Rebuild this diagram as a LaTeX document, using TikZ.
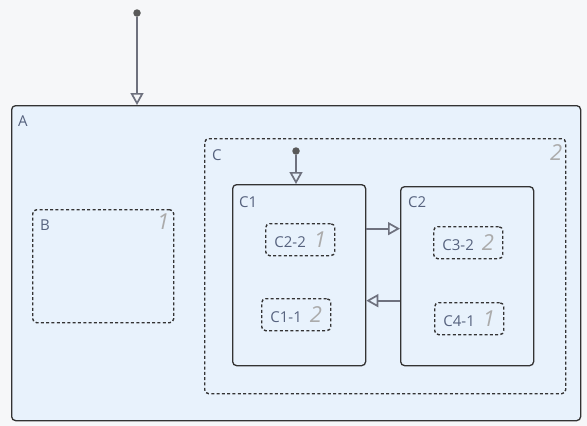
\documentclass[tikz,border=0pt]{standalone}
\usepackage{fontspec}
\setmainfont{Open Sans}
\usetikzlibrary{positioning,arrows.meta}

\definecolor{paper}{HTML}{F6F7F9}
\definecolor{statefill}{HTML}{E8F2FC}
\definecolor{stateline}{HTML}{333333}
\definecolor{labelblue}{HTML}{56627E}
\definecolor{ordergray}{HTML}{ABABAB}
\definecolor{transgray}{HTML}{6E717E}

\newcommand{\ordnum}[1]{{\fontsize{22}{22}\selectfont\itshape\color{ordergray}#1}}

\begin{document}
\begin{tikzpicture}[x=1pt,y=-1pt,
  state/.style={draw=stateline, line width=1.3, rounded corners=4,
    anchor=north west, inner sep=0, fill=statefill},
  group/.style={state, fill=none, line width=1.4, dash pattern=on 3pt off 2.3pt},
  substate/.style={group, text=labelblue, font=\fontsize{15}{15}\selectfont,
    minimum width=69, minimum height=32},
  lbl/.style={inner sep=0, anchor=north west, text=labelblue,
    font=\fontsize{15}{15}\selectfont},
  ord/.style={inner sep=0, anchor=north east},
  initdot/.style={circle, fill=black!65, inner sep=0, minimum size=7.5},
  trans/.style={draw=transgray, line width=1.7,
    -{Triangle[open, length=12pt, width=13pt]}}]

\useasboundingbox[fill=paper] (0,0) rectangle (587,426);

% outer state
\node[state, minimum width=569, minimum height=315] (A) at (11,105) {};
\node[lbl, below right=11pt and 7pt of A.north west] (Alabel) {A};

\node[initdot] (init0) at (137,13) {};
\coordinate (Aentry) at (init0 |- A.north);
\draw[trans] (init0) -- (Aentry);

% B
\node[group, minimum width=141, minimum height=113] (B) at (32,209) {};
\node[lbl, below right=11pt and 8pt of B.north west] (Blabel) {B};
\node[ord, below left=5pt and 5pt of B.north east] (Bord) {\ordnum{1}};

% C with its children
\node[group, minimum width=361, minimum height=255] (C) at (204,138) {};
\node[lbl, below right=11pt and 8pt of C.north west] (Clabel) {C};
\node[ord, below left=6pt and 4pt of C.north east] (Cord) {\ordnum{2}};

\node[state, minimum width=133, minimum height=181] (C1) at (232,184) {};
\node[lbl, below right=12pt and 7pt of C1.north west] (C1label) {C1};

\node[state, minimum width=133, minimum height=179] (C2) at (400,186) {};
\node[lbl, below right=10pt and 8pt of C2.north west] (C2label) {C2};

\node[initdot] (init1) at (296,151) {};
\coordinate (C1entry) at (init1 |- C1.north);
\draw[trans] (init1) -- (C1entry);

\node[substate] (c22) at (265,223) {C2-2\hspace{8pt}\ordnum{1}};
\node[substate] (c11) at (261,298) {C1-1\hspace{8pt}\ordnum{2}};
\node[substate] (c32) at (433,226) {C3-2\hspace{8pt}\ordnum{2}};
\node[substate] (c41) at (434,302) {C4-1\hspace{8pt}\ordnum{1}};

\draw[trans]
  ([yshift=46.5pt]C1.east) -- ([yshift=46.5pt]C1.east -| C2.west);
\draw[trans]
  ([yshift=-25.5pt]C1.east -| C2.west) -- ([yshift=-25.5pt]C1.east);

\end{tikzpicture}
\end{document}
